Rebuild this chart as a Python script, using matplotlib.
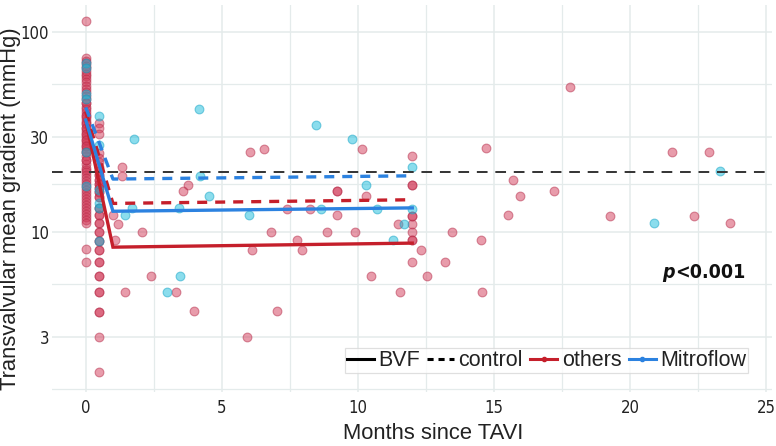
import matplotlib
matplotlib.use("Agg")
import matplotlib.pyplot as plt
from matplotlib.lines import Line2D
from matplotlib.ticker import FixedLocator, NullFormatter
from matplotlib import font_manager as fm

# ---------------- data ----------------
# "others" valves: gradients measured at month 0 (baseline)
others_m0 = [113, 74, 72, 70, 68, 66, 64, 62, 60, 58, 56, 54, 52, 50, 48, 46, 44, 42, 40,
             38.5, 37, 36, 34.5, 33, 32, 31, 30, 29, 28, 27, 26, 25, 24, 23, 22, 21, 20.5,
             20, 19.3, 18.6, 18, 17.4, 16.8, 16.2, 15.7, 15.1, 14.6, 14.1, 13.7, 13.2, 12.7,
             12.3, 11.9, 11.5, 11.1, 8.2, 7.1,
             44, 41, 38, 35, 33, 31, 29, 27, 25, 23]
# "others" valves: gradients measured at month 0.5 (discharge)
others_m05 = [35, 33, 31, 24.8, 23.5, 22.3, 21.2, 20.2, 19.2, 18.3, 17.4, 16.6, 15.8, 15.0,
              13.2, 12.2, 11.1, 10.0, 9.0, 8.1, 7.1, 6.05, 5.0, 4.0, 3.0, 2.0,
              20.2, 19.2, 18.3, 17.4, 16.6, 15.8, 15.0, 13.2, 12.2, 11.1, 10.0, 9.0, 8.1,
              7.1, 6.05, 5.0, 4.0]
# "others" valves: follow-up (month, gradient)
others_fu_month = [1.34, 1.34, 3.76, 3.57, 6.04, 6.55, 9.23, 9.23, 1.01, 1.2, 7.39, 8.24, 9.23,
                   2.08, 6.8, 8.86, 1.07, 7.78, 6.1, 7.94, 2.40, 1.45, 3.33, 3.99, 7.02, 5.91,
                   10.17, 12.0, 14.71, 10.29, 12.0, 12.0, 15.72, 15.96, 15.51, 13.47, 14.52,
                   13.22, 12.54, 10.49, 11.54, 14.58, 12.32, 12.0, 12.0, 12.0, 12.0, 12.0, 12.0,
                   12.0, 11.47, 9.9, 17.8, 21.55, 22.9, 17.2, 19.27, 22.37, 23.66]
others_fu_grad = [21.2, 19.1, 17.2, 16.1, 25.1, 26.1, 16.1, 16.1, 12.1, 11.0, 13.1, 13.1, 12.1,
                  10.0, 10.0, 10.0, 9.1, 9.1, 8.1, 8.1, 6.05, 5.0, 5.0, 4.05, 4.05, 3.0,
                  26.1, 24.1, 26.2, 15.2, 17.1, 17.1, 18.1, 15.1, 12.1, 10.0, 9.1,
                  7.1, 6.05, 6.05, 5.0, 5.0, 8.1, 7.1, 10.0, 11.0, 12.0, 12.0, 9.1,
                  9.1, 11.0, 10.0, 53.3, 25.1, 25.1, 16.1, 12.0, 12.0, 11.1]

# Mitroflow valves
mitro_m0 = [70, 66, 49, 46, 25, 17]
mitro_m05 = [38, 27.2, 16.2, 14.0, 13.2, 9.0]
mitro_fu_month = [4.15, 1.78, 8.46, 4.21, 4.53, 1.69, 1.44, 3.43, 8.63, 6.01, 3.46, 3.0, 9.8,
                  12.0, 10.29, 12.0, 11.71, 11.3, 10.71, 23.32, 20.9]
mitro_fu_grad = [41.2, 29.2, 34.3, 19.1, 15.1, 13.2, 12.1, 13.2, 13.1, 12.1, 6.05, 5.0, 29.2,
                 21.2, 17.2, 13.1, 11.0, 9.1, 13.1, 20.1, 11.1]

# fitted mean trajectories
fit_month = [0, 1, 12]
others_bvf = [36, 8.4, 8.8]
others_control = [40, 13.9, 14.5]
mitro_bvf = [36.3, 12.7, 13.2]
mitro_control = [42, 18.4, 19.1]
reference_level = 20.0

x_ticks = [0, 5, 10, 15, 20, 25]
y_ticks = [3, 10, 30, 100]
y_tick_labels = ["3", "10", "30", "100"]

others_month = [0] * len(others_m0) + [0.5] * len(others_m05) + others_fu_month
others_grad = others_m0 + others_m05 + others_fu_grad
mitro_month = [0] * len(mitro_m0) + [0.5] * len(mitro_m05) + mitro_fu_month
mitro_grad = mitro_m0 + mitro_m05 + mitro_fu_grad

# ---------------- style ----------------
RED = "#c51f2b"
BLUE = "#2c82e0"
PINK_FACE = "#d23a58"
CYAN_FACE = "#19bcdc"
GRID = "#e4ebeb"
SANS = ["Liberation Sans", "DejaVu Sans"]
names = {f.name for f in fm.fontManager.ttflist}
if "Liberation Sans Narrow" in names:
    TICK_FP = dict(family="Liberation Sans Narrow")
else:
    TICK_FP = dict(family="DejaVu Sans", stretch="condensed")

fig = plt.figure(figsize=(7.76, 4.46), dpi=100)
ax = fig.add_axes([52 / 776, 1 - 392 / 446, 720 / 776, 387 / 446])

ax.set_yscale("log")
ax.set_xlim(-1.24, 25.22)
ax.set_ylim(1.585, 136.5)

ax.xaxis.set_major_locator(FixedLocator(x_ticks))
ax.xaxis.set_minor_locator(FixedLocator([2.5, 7.5, 12.5, 17.5, 22.5]))
ax.yaxis.set_major_locator(FixedLocator(y_ticks))
ax.yaxis.set_minor_locator(FixedLocator([1.64, 5.48, 17.3, 54.8]))
ax.yaxis.set_minor_formatter(NullFormatter())
ax.set_yticklabels(y_tick_labels)
ax.grid(True, which="major", color=GRID, lw=1.1, zorder=0)
ax.grid(True, which="minor", color=GRID, lw=0.9, zorder=0)
ax.set_axisbelow(True)
for s in ax.spines.values():
    s.set_visible(False)
ax.tick_params(which="both", length=0)
ax.tick_params(axis="x", pad=5)
ax.tick_params(axis="y", pad=2)
for lab in ax.get_xticklabels() + ax.get_yticklabels():
    lab.set_fontproperties(fm.FontProperties(size=12, **TICK_FP))
    lab.set_color("#222222")

# points
ax.scatter(others_month, others_grad, s=40, facecolor=PINK_FACE, edgecolor="#b52a48",
           linewidth=0.8, alpha=0.5, zorder=2)
ax.scatter(mitro_month, mitro_grad, s=40, facecolor=CYAN_FACE, edgecolor="#10a2c4",
           linewidth=0.8, alpha=0.5, zorder=2)

# reference line
ax.axhline(reference_level, color="#333333", lw=1.4, ls=(0, (5.5, 4)), zorder=3)

# fitted lines
ax.plot(fit_month, others_bvf, color=RED, lw=2.4, zorder=4, solid_joinstyle="miter")
ax.plot(fit_month, others_control, color=RED, lw=2.4, ls=(0, (3, 2.4)), zorder=4)
ax.plot(fit_month, mitro_bvf, color=BLUE, lw=2.4, zorder=4, solid_joinstyle="miter")
ax.plot(fit_month, mitro_control, color=BLUE, lw=2.4, ls=(0, (3, 2.4)), zorder=4)

# annotation
ptxt = ax.text(21.2, 6.3, "p", fontproperties=fm.FontProperties(
    size=14, weight="bold", style="italic", **TICK_FP),
    va="center", ha="left", color="#111111")
ax.annotate("<0.001", xy=(1.0, 0.5), xycoords=ptxt, va="center", ha="left",
            fontproperties=fm.FontProperties(size=14, weight="bold", **TICK_FP),
            color="#111111")

# labels
ax.set_xlabel("Months since TAVI", fontsize=15.8, family=SANS, color="#222222")
ax.xaxis.set_label_coords((433 - 52) / 720, (392 - 423) / 387)
ax.set_ylabel("Transvalvular mean gradient (mmHg)", fontsize=15.8, family=SANS,
              color="#222222", va="top")
ax.yaxis.set_label_coords((0 - 52) / 720, (392 - 209) / 387)

# legend
handles = [
    Line2D([], [], color="black", lw=2.2),
    Line2D([], [], color="black", lw=2.2, ls=(0, (2, 1.6))),
    Line2D([], [], color=RED, lw=2.2, marker="o", ms=3),
    Line2D([], [], color=BLUE, lw=2.2, marker="o", ms=3),
]
labels = ["BVF", "control", "others", "Mitroflow"]
leg = ax.legend(handles, labels, loc="lower right", bbox_to_anchor=(0.967, 0.048),
                ncol=4, frameon=True, fancybox=False, borderaxespad=0,
                handlelength=1.25, handletextpad=0.2, columnspacing=0.35,
                borderpad=0.1, prop={"family": SANS, "size": 15.5})
leg.get_frame().set_edgecolor("#d8d8d8")
leg.get_frame().set_linewidth(0.9)
for t in leg.get_texts():
    t.set_color("#222222")

fig.savefig("out.png", dpi=100)
